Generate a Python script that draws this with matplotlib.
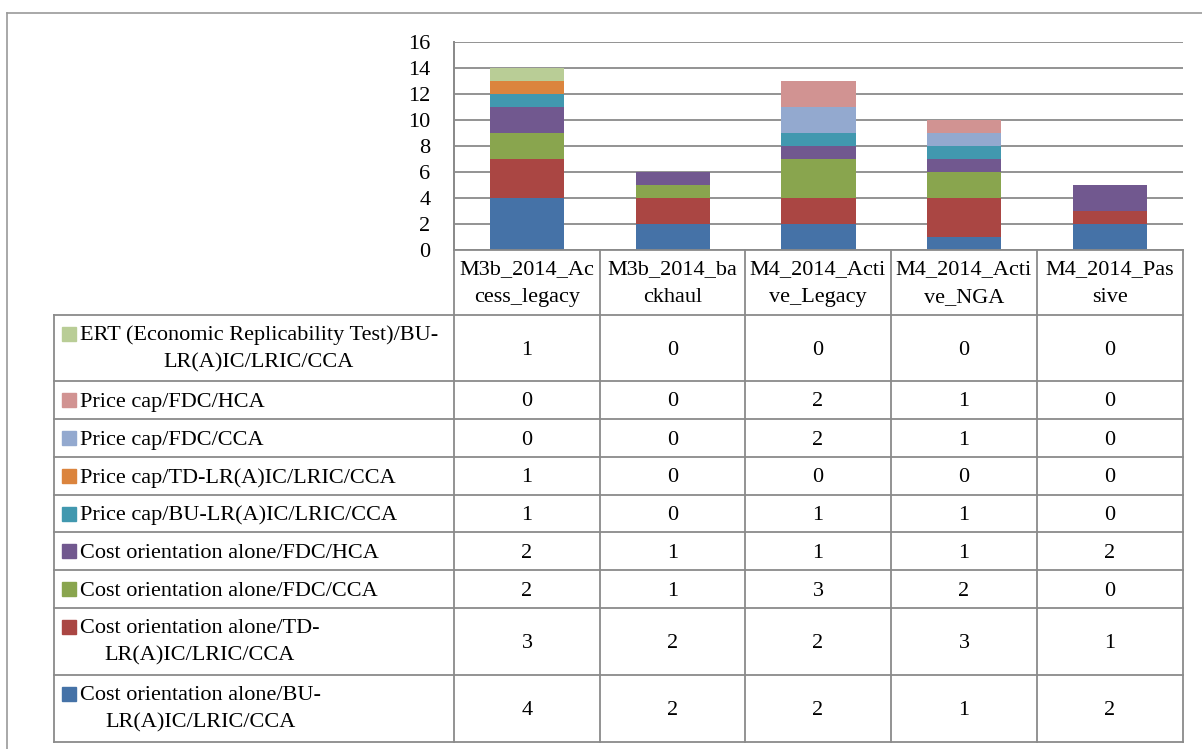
import matplotlib
matplotlib.use("Agg")
import matplotlib.pyplot as plt
from matplotlib.lines import Line2D
from matplotlib.patches import Rectangle

# ---- data ----
categories = ["M3b_2014_Ac\ncess_legacy", "M3b_2014_ba\nckhaul", "M4_2014_Acti\nve_Legacy",
              "M4_2014_Acti\nve_NGA", "M4_2014_Pas\nsive"]
# series listed bottom-of-stack first
series_names = [
    "Cost orientation alone/BU-\nLR(A)IC/LRIC/CCA",
    "Cost orientation alone/TD-\nLR(A)IC/LRIC/CCA",
    "Cost orientation alone/FDC/CCA",
    "Cost orientation alone/FDC/HCA",
    "Price cap/BU-LR(A)IC/LRIC/CCA",
    "Price cap/TD-LR(A)IC/LRIC/CCA",
    "Price cap/FDC/CCA",
    "Price cap/FDC/HCA",
    "ERT (Economic Replicability Test)/BU-\nLR(A)IC/LRIC/CCA",
]
co_bu = [4, 2, 2, 1, 2]
co_td = [3, 2, 2, 3, 1]
co_fdc_cca = [2, 1, 3, 2, 0]
co_fdc_hca = [2, 1, 1, 1, 2]
pc_bu = [1, 0, 1, 1, 0]
pc_td = [1, 0, 0, 0, 0]
pc_fdc_cca = [0, 0, 2, 1, 0]
pc_fdc_hca = [0, 0, 2, 1, 0]
ert_bu = [1, 0, 0, 0, 0]
series_values = [co_bu, co_td, co_fdc_cca, co_fdc_hca, pc_bu, pc_td, pc_fdc_cca, pc_fdc_hca, ert_bu]
colors = ["#4572A7", "#AA4643", "#89A54E", "#71588F", "#4198AF",
          "#DB843D", "#93A9CF", "#D19392", "#B9CD96"]
yticks = [0, 2, 4, 6, 8, 10, 12, 14, 16]

# ---- layout (pixels) ----
W, H = 1202, 749
FONT = "Liberation Serif"
FS = 16
LS = 1.6
GRID = "#8a8a8a"
LW = 1.3

fig = plt.figure(figsize=(W / 100, H / 100), dpi=100)

def fx(x):
    return x / W

def fy(y):
    return 1 - y / H

col_edges = [454, 600, 745, 891, 1037, 1183]
plot_top, plot_bot = 42, 250
header_bot = 315
row_edges = [315, 381, 419, 457, 495, 532, 570, 608, 675, 742]
legend_left = 54

ax = fig.add_axes([fx(454), fy(plot_bot), (1183 - 454) / W, (plot_bot - plot_top) / H])
bottom = [0] * len(categories)
x = list(range(len(categories)))
for vals, c in zip(series_values, colors):
    ax.bar(x, vals, width=0.51, bottom=bottom, color=c, edgecolor="none", zorder=3)
    bottom = [b + v for b, v in zip(bottom, vals)]
ax.set_xlim(-0.5, len(categories) - 0.5)
ax.set_ylim(0, 16)
ax.set_yticks(yticks)
ax.set_yticklabels([str(t) for t in yticks], fontsize=FS, family=FONT)
ax.set_xticks([])
ax.tick_params(axis="y", length=0, pad=17)
ax.yaxis.grid(True, color=GRID, linewidth=LW, zorder=0)
for s in ["top", "right", "bottom"]:
    ax.spines[s].set_visible(False)
ax.spines["left"].set_color(GRID)
ax.spines["left"].set_linewidth(LW)

def hline(y, x0, x1, color=GRID, lw=LW):
    fig.add_artist(Line2D([fx(x0), fx(x1)], [fy(y), fy(y)], color=color, lw=lw))

def vline(x, y0, y1, color=GRID, lw=LW):
    fig.add_artist(Line2D([fx(x), fx(x)], [fy(y0), fy(y1)], color=color, lw=lw))

# outer chart frame
hline(13, 7, W + 5, color="#9a9a9a", lw=1.2)
vline(7, 13, H + 5, color="#9a9a9a", lw=1.2)

# table lines
hline(plot_bot, 454, 1183)
for y in row_edges:
    hline(y, legend_left, 1183)
vline(legend_left, header_bot, row_edges[-1])
vline(454, plot_top, row_edges[-1])
for xe in col_edges[1:]:
    vline(xe, plot_bot, row_edges[-1])

# header labels
for i, cat in enumerate(categories):
    xc = (col_edges[i] + col_edges[i + 1]) / 2
    fig.text(fx(xc), fy((plot_bot + header_bot) / 2 + 1), cat, ha="center", va="center",
             fontsize=FS, family=FONT, linespacing=LS, multialignment="center")

# rows: top row is the last series
for r, si in enumerate(reversed(range(len(series_names)))):
    y0, y1 = row_edges[r], row_edges[r + 1]
    yc = (y0 + y1) / 2
    two_line = "\n" in series_names[si]
    sw_c = yc - 14.5 if two_line else yc
    fig.add_artist(Rectangle((fx(62), fy(sw_c + 7)), 14 / W, 14 / H, color=colors[si],
                             transform=fig.transFigure))
    ty = yc + 1 if two_line else yc + 2
    fig.text(fx(80), fy(ty), series_names[si], ha="left", va="center", fontsize=FS,
             family=FONT, linespacing=LS, multialignment="center")
    for i in range(len(categories)):
        xc = (col_edges[i] + col_edges[i + 1]) / 2
        fig.text(fx(xc), fy(yc + 2), str(series_values[si][i]), ha="center", va="center",
                 fontsize=FS, family=FONT)

fig.savefig("out.png", dpi=100)
